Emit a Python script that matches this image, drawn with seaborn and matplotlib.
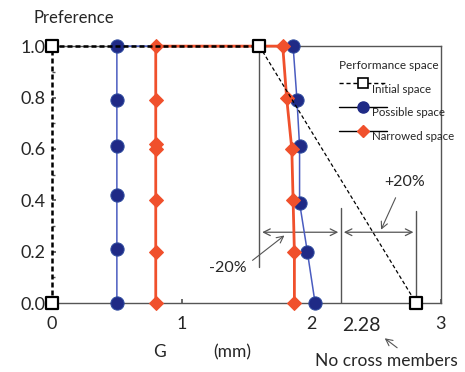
import numpy as np
import pandas as pd
import matplotlib
matplotlib.use('Agg')
import matplotlib.pyplot as plt
import seaborn as sns
from matplotlib.lines import Line2D

sns.set_theme(style="ticks")
plt.rcParams['font.family'] = ['Lato', 'DejaVu Sans']

# initial space (dashed, squares at corners)
init_g = [0.0, 0.0, 1.60, 2.81]
init_p = [0.0, 1.0, 1.0, 0.0]

# possible space (blue circles): left side bottom->top, then right side top->bottom
poss_g = [0.50, 0.50, 0.50, 0.50, 0.50, 0.50, 1.86, 1.89, 1.91, 1.91, 1.97, 2.03]
poss_p = [0.0, 0.21, 0.42, 0.61, 0.79, 1.0, 1.0, 0.79, 0.61, 0.39, 0.20, 0.0]

# narrowed space (red diamonds)
narr_g = [0.80, 0.80, 0.80, 0.80, 0.80, 0.80, 0.80, 1.78, 1.81, 1.85, 1.86, 1.87, 1.87]
narr_p = [0.0, 0.20, 0.40, 0.60, 0.62, 0.79, 1.0, 1.0, 0.80, 0.60, 0.40, 0.20, 0.0]

# reference lines for the annotations
g_init_top = 1.60
g_nocross = 2.23
g_plus = 2.81
arrow_p = 0.276

x_ticks = [0, 1, 2, 3]
y_ticks = [0.0, 0.2, 0.4, 0.6, 0.8, 1.0]

RED = '#F0502C'
BLUE_LINE = '#4A5CC0'
BLUE_DOT = '#1F2A86'
GRAY = '#555555'

fig = plt.figure(figsize=(4.65, 3.72), dpi=100)
ax = fig.add_axes([0.112, 0.185, 0.836, 0.691])

# annotation lines
ax.plot([g_init_top, g_init_top], [0.14, 1.0], color=GRAY, lw=1)
ax.plot([g_nocross, g_nocross], [0.0, 0.37], color=GRAY, lw=1)
ax.plot([g_plus, g_plus], [0.0, 0.36], color=GRAY, lw=1)
ax.annotate('', xy=(g_init_top, arrow_p), xytext=(g_nocross, arrow_p),
            arrowprops=dict(arrowstyle='<->', color=GRAY, lw=0.9))
ax.annotate('', xy=(g_nocross, arrow_p), xytext=(g_plus, arrow_p),
            arrowprops=dict(arrowstyle='<->', color=GRAY, lw=0.9))

df_init = pd.DataFrame({'G': init_g, 'P': init_p})
df_poss = pd.DataFrame({'G': poss_g, 'P': poss_p})
df_narr = pd.DataFrame({'G': narr_g, 'P': narr_p})

sns.lineplot(data=df_poss, x='G', y='P', sort=False, estimator=None, ax=ax,
             color=BLUE_LINE, lw=1.1, marker='o', markersize=9.5,
             markerfacecolor=BLUE_DOT, markeredgecolor='#2E4A9E', clip_on=False, zorder=4)
sns.lineplot(data=df_narr, x='G', y='P', sort=False, estimator=None, ax=ax,
             color=RED, lw=2.0, marker='D', markersize=7,
             markerfacecolor=RED, markeredgecolor=RED, clip_on=False, zorder=5)
# thick dashed part (left side and top) and thin dashed diagonal
sns.lineplot(data=df_init.iloc[:3], x='G', y='P', sort=False, estimator=None, ax=ax,
             color='black', lw=1.8, ls=(0, (2, 1.2)), clip_on=False, zorder=6)
sns.lineplot(data=df_init.iloc[2:], x='G', y='P', sort=False, estimator=None, ax=ax,
             color='black', lw=0.9, ls=(0, (3, 2)), clip_on=False, zorder=6)
sns.scatterplot(data=df_init, x='G', y='P', ax=ax, marker='s', s=70,
                color='white', edgecolor='black', linewidth=1.6, clip_on=False, zorder=7)

ax.set_xlim(0, 3)
ax.set_ylim(0, 1)
ax.set_xticks(x_ticks)
ax.set_xticklabels([str(t) for t in x_ticks])
ax.set_yticks(y_ticks)
ax.set_yticklabels([f'{t:.1f}' for t in y_ticks])
ax.set_yticks(np.arange(0.1, 1.0, 0.2), minor=True)
ax.tick_params(axis='both', labelsize=13, length=3, color=GRAY, direction='in', pad=5)
ax.tick_params(axis='x', pad=9)
ax.tick_params(axis='y', which='minor', length=2, color=GRAY, direction='in')
ax.set_xlabel('')
ax.set_ylabel('')
for s in ['top', 'right', 'bottom']:
    ax.spines[s].set_color(GRAY)
    ax.spines[s].set_linewidth(1)
ax.spines['left'].set_visible(False)

# texts
ax.text(0.17, 1.11, 'Preference', fontsize=12, ha='center', va='center', clip_on=False)
ax.text(0.83, -0.19, 'G', fontsize=12.5, ha='center', va='center')
ax.text(1.39, -0.19, '(mm)', fontsize=12.5, ha='center', va='center')
ax.text(2.39, -0.088, '2.28', fontsize=14, ha='center', va='center')
ax.text(2.72, 0.47, '+20%', fontsize=11.5, ha='center', va='center')
ax.text(1.36, 0.135, '-20%', fontsize=11.5, ha='center', va='center')
ax.text(2.58, -0.226, 'No cross members', fontsize=12.5, ha='center', va='center')
ax.annotate('', xy=(2.53, arrow_p), xytext=(2.66, 0.42),
            arrowprops=dict(arrowstyle='->', color=GRAY, lw=0.8))
ax.annotate('', xy=(1.81, 0.27), xytext=(1.53, 0.16),
            arrowprops=dict(arrowstyle='->', color=GRAY, lw=0.8))
ax.annotate('', xy=(2.55, -0.13), xytext=(2.68, -0.18), annotation_clip=False,
            arrowprops=dict(arrowstyle='->', color=GRAY, lw=0.8))

# legend
handles = [
    Line2D([], [], color='black', lw=1, ls=(0, (3, 2)), marker='s', markersize=7,
           markerfacecolor='white', markeredgecolor='black', markeredgewidth=1.2),
    Line2D([], [], color='black', lw=1, marker='o', markersize=8,
           markerfacecolor=BLUE_DOT, markeredgecolor=BLUE_DOT),
    Line2D([], [], color='black', lw=1, marker='D', markersize=6,
           markerfacecolor=RED, markeredgecolor=RED),
]
labels = ['\nInitial space', '\nPossible space', '\nNarrowed space']
leg = ax.legend(handles, labels, title='Performance space', loc='upper left',
                bbox_to_anchor=(0.725, 0.965), frameon=False, fontsize=8.3,
                title_fontsize=8.5, handlelength=4.2, handletextpad=-1.3,
                labelspacing=0.0, borderaxespad=0)
leg._legend_box.align = 'left'

fig.savefig('out.png', dpi=100)
